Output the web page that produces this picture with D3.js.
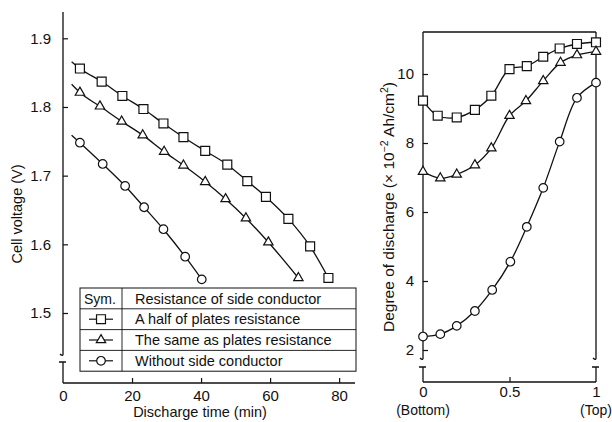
<!DOCTYPE html>
<html lang="en">
<head>
<meta charset="utf-8">
<title>Cell voltage and degree of discharge</title>
<script src="https://d3js.org/d3.v7.min.js"></script>
<style>
  body { margin: 0; background: #fff; }
  svg { display: block; font-family: "Liberation Sans", Arial, sans-serif; }
  .ax { stroke: #111; stroke-width: 1.3; fill: none; }
  .tk text { font-size: 15px; fill: #111; }
  .curve { fill: none; stroke: #111; stroke-width: 1.3; }
  .mk { fill: #fff; stroke: #111; stroke-width: 1.2; }
  .lbl { font-size: 14.5px; fill: #111; }
</style>
</head>
<body>
<div id="chart"></div>
<script>
// ---- left panel: cell voltage vs discharge time ----
const timeSq  = [4.9, 11.2, 17.2, 23.3, 29.1, 34.9, 41.2, 47.6, 53.4, 58.8, 65.3, 71.6, 76.9];
const voltSq  = [1.856, 1.837, 1.816, 1.797, 1.776, 1.756, 1.736, 1.716, 1.692, 1.669, 1.637, 1.597, 1.551];
const timeTri = [4.9, 10.7, 17.0, 23.1, 29.3, 34.9, 41.2, 47.1, 53.0, 59.5, 68.2];
const voltTri = [1.821, 1.801, 1.779, 1.759, 1.735, 1.715, 1.691, 1.666, 1.638, 1.603, 1.551];
const timeCi  = [4.9, 11.5, 18.0, 23.5, 29.1, 35.4, 40.2];
const voltCi  = [1.748, 1.717, 1.685, 1.654, 1.622, 1.582, 1.549];
// curves are drawn on from a little before the first symbol
const startTime = 2.5;
const startVolt = [1.866, 1.833, 1.759];

const voltTicks = [1.5, 1.6, 1.7, 1.8, 1.9];
const timeTicks = [0, 20, 40, 60, 80];

// ---- right panel: degree of discharge vs position ----
const posSq  = [0, 0.085, 0.195, 0.3, 0.395, 0.5, 0.6, 0.695, 0.79, 0.89, 1.0];
const dodSq  = [9.23, 8.79, 8.74, 8.96, 9.37, 10.14, 10.23, 10.50, 10.74, 10.87, 10.92];
const posTri = [0, 0.1, 0.195, 0.3, 0.395, 0.5, 0.595, 0.695, 0.795, 0.89, 1.0];
const dodTri = [7.17, 6.98, 7.09, 7.36, 7.85, 8.79, 9.22, 9.80, 10.33, 10.55, 10.65];
const posCi  = [0, 0.1, 0.195, 0.3, 0.4, 0.505, 0.6, 0.695, 0.79, 0.89, 1.0];
const dodCi  = [2.39, 2.46, 2.70, 3.13, 3.74, 4.56, 5.57, 6.70, 8.04, 9.31, 9.75];

const dodTicks = [2, 4, 6, 8, 10];
const posTicks = [0, 0.5, 1];
const posNames = ["(Bottom)", "", "(Top)"];

const symbols = ["square", "triangle", "circle"];
const legendHead = ["Sym.", "Resistance of side conductor"];
const legendRows = ["A half of plates resistance", "The same as plates resistance", "Without side conductor"];

const W = 612, H = 422;
const svg = d3.select("#chart").append("svg").attr("width", W).attr("height", H);

function symbolPath(kind) {
  if (kind === "square") return d3.symbol(d3.symbolSquare, 80)();
  if (kind === "triangle") return d3.symbol(d3.symbolTriangle, 38)();
  return d3.symbol(d3.symbolCircle, 58)();
}

function zip(xs, ys) { return xs.map((x, i) => [x, ys[i]]); }

// axis with a small break near the origin
function brokenAxis(g, x, yTop, yBreak1, yBreak2, yBottom) {
  g.append("path").attr("class", "ax")
    .attr("d", `M${x},${yTop}V${yBreak1}M${x - 3},${yBreak1 - 1}Q${x - 1},${yBreak1 + 1} ${x},${yBreak1}` +
               `M${x - 4},${yBreak2}H${x + 3}M${x},${yBreak2}V${yBottom}`);
}

// ================= LEFT =================
const xL = d3.scaleLinear().domain([0, 84.6]).range([63, 355]);
const yL = d3.scaleLinear().domain([1.5, 1.9]).range([313, 38.3]);
const left = svg.append("g");
const baseL = 383;

brokenAxis(left, xL(0), 12, 355, 362, baseL);
left.append("line").attr("class", "ax")
  .attr("x1", xL(0)).attr("x2", xL(84.6)).attr("y1", baseL).attr("y2", baseL);

left.append("g").attr("class", "tk")
  .attr("transform", `translate(${xL(0)},0)`)
  .call(d3.axisLeft(yL).tickValues(voltTicks).tickFormat(d3.format(".1f"))
    .tickSizeInner(-5).tickSizeOuter(0).tickPadding(12))
  .call(g => g.select(".domain").remove())
  .call(g => g.selectAll("line").attr("stroke", "#111").attr("stroke-width", 1.2));

left.append("g").attr("class", "tk")
  .attr("transform", `translate(0,${baseL})`)
  .call(d3.axisBottom(xL).tickValues(timeTicks).tickFormat(d3.format("d"))
    .tickSizeInner(-5).tickSizeOuter(0).tickPadding(7))
  .call(g => g.select(".domain").remove())
  .call(g => g.selectAll("line").attr("stroke", "#111").attr("stroke-width", 1.2)
    .attr("opacity", d => d === 0 ? 0 : 1));

const lineL = d3.line().x(d => xL(d[0])).y(d => yL(d[1])).curve(d3.curveMonotoneX);
const leftSeries = [zip(timeSq, voltSq), zip(timeTri, voltTri), zip(timeCi, voltCi)];
leftSeries.forEach((pts, i) => {
  left.append("path").attr("class", "curve").attr("d", lineL([[startTime, startVolt[i]], ...pts]));
  left.selectAll(null).data(pts).join("path").attr("class", "mk")
    .attr("transform", d => `translate(${xL(d[0])},${yL(d[1])})`)
    .attr("d", symbolPath(symbols[i]));
});

left.append("text").attr("class", "lbl")
  .attr("transform", "translate(22,214) rotate(-90)")
  .attr("text-anchor", "middle").text("Cell voltage (V)");
left.append("text").attr("class", "lbl")
  .attr("x", 200).attr("y", 417).attr("text-anchor", "middle").text("Discharge time (min)");

// legend table
const lg = left.append("g");
const lgL = 80, lgR = 356, lgT = 288, rowH = 20.8, colX = 122;
const nRows = legendRows.length + 1;
lg.append("rect").attr("x", lgL).attr("y", lgT).attr("width", lgR - lgL).attr("height", rowH * nRows)
  .attr("fill", "#fff").attr("stroke", "#111").attr("stroke-width", 1);
d3.range(1, nRows).forEach(r => {
  lg.append("line").attr("x1", lgL).attr("x2", lgR).attr("y1", lgT + r * rowH).attr("y2", lgT + r * rowH)
    .attr("stroke", "#111").attr("stroke-width", 0.9);
});
lg.append("line").attr("x1", colX).attr("x2", colX).attr("y1", lgT).attr("y2", lgT + rowH * nRows)
  .attr("stroke", "#111").attr("stroke-width", 0.9);
lg.append("text").attr("class", "lbl").attr("x", 84).attr("y", lgT + rowH - 5).style("font-size", "14px").text(legendHead[0]);
lg.append("text").attr("class", "lbl").attr("x", 135).attr("y", lgT + rowH - 5).text(legendHead[1]);
legendRows.forEach((t, i) => {
  const cy = lgT + (i + 1.5) * rowH;
  lg.append("line").attr("x1", 89).attr("x2", 113).attr("y1", cy).attr("y2", cy)
    .attr("stroke", "#111").attr("stroke-width", 1.2);
  lg.append("path").attr("class", "mk").attr("transform", `translate(101,${cy})`)
    .attr("d", symbolPath(symbols[i]));
  lg.append("text").attr("class", "lbl").attr("x", 135).attr("y", cy + 5).text(t);
});

// ================= RIGHT =================
const xR = d3.scaleLinear().domain([0, 1]).range([423, 596]);
const yR = d3.scaleLinear().domain([2, 10]).range([350, 74]);
const right = svg.append("g");
const baseR = 382, topR = 32;

brokenAxis(right, xR(0), topR, 359, 367, baseR);
brokenAxis(right, xR(1), topR, 359, 367, baseR);
right.append("line").attr("class", "ax")
  .attr("x1", xR(0)).attr("x2", xR(1)).attr("y1", topR).attr("y2", topR);
right.append("line").attr("class", "ax")
  .attr("x1", xR(0)).attr("x2", xR(1)).attr("y1", baseR).attr("y2", baseR);

right.append("g").attr("class", "tk")
  .attr("transform", `translate(${xR(0)},0)`)
  .call(d3.axisLeft(yR).tickValues(dodTicks).tickFormat(d3.format("d"))
    .tickSizeInner(-5).tickSizeOuter(0).tickPadding(9))
  .call(g => g.select(".domain").remove())
  .call(g => g.selectAll("line").attr("stroke", "#111").attr("stroke-width", 1.2));

right.append("g").attr("class", "tk")
  .attr("transform", `translate(0,${baseR})`)
  .call(d3.axisBottom(xR).tickValues(posTicks).tickFormat(d => d === 0.5 ? "0.5" : d3.format("d")(d))
    .tickSizeInner(-5).tickSizeOuter(0).tickPadding(4))
  .call(g => g.select(".domain").remove())
  .call(g => g.selectAll("line").attr("stroke", "#111").attr("stroke-width", 1.2)
    .attr("opacity", d => d === 0.5 ? 1 : 0));

right.selectAll(null).data(posTicks.map((p, i) => [p, posNames[i]]).filter(d => d[1]))
  .join("text").attr("class", "lbl")
  .attr("x", d => xR(d[0])).attr("y", 415).attr("text-anchor", "middle")
  .style("font-size", "14px").text(d => d[1]);

const lineR = d3.line().x(d => xR(d[0])).y(d => yR(d[1])).curve(d3.curveCatmullRom.alpha(0.5));
const rightSeries = [zip(posSq, dodSq), zip(posTri, dodTri), zip(posCi, dodCi)];
rightSeries.forEach((pts, i) => {
  right.append("path").attr("class", "curve").attr("d", lineR(pts));
  right.selectAll(null).data(pts).join("path").attr("class", "mk")
    .attr("transform", d => `translate(${xR(d[0])},${yR(d[1])})`)
    .attr("d", symbolPath(symbols[i]));
});

const rt = right.append("text").attr("class", "lbl")
  .attr("transform", "translate(394,207) rotate(-90)")
  .attr("text-anchor", "middle").style("font-size", "15.5px");
rt.append("tspan").text("Degree of discharge (\u00d7 10");
rt.append("tspan").attr("dy", -6).style("font-size", "10.5px").text("\u22122");
rt.append("tspan").attr("dy", 6).text(" Ah/cm");
rt.append("tspan").attr("dy", -6).style("font-size", "10.5px").text("2");
rt.append("tspan").attr("dy", 6).text(")");
</script>
</body>
</html>
